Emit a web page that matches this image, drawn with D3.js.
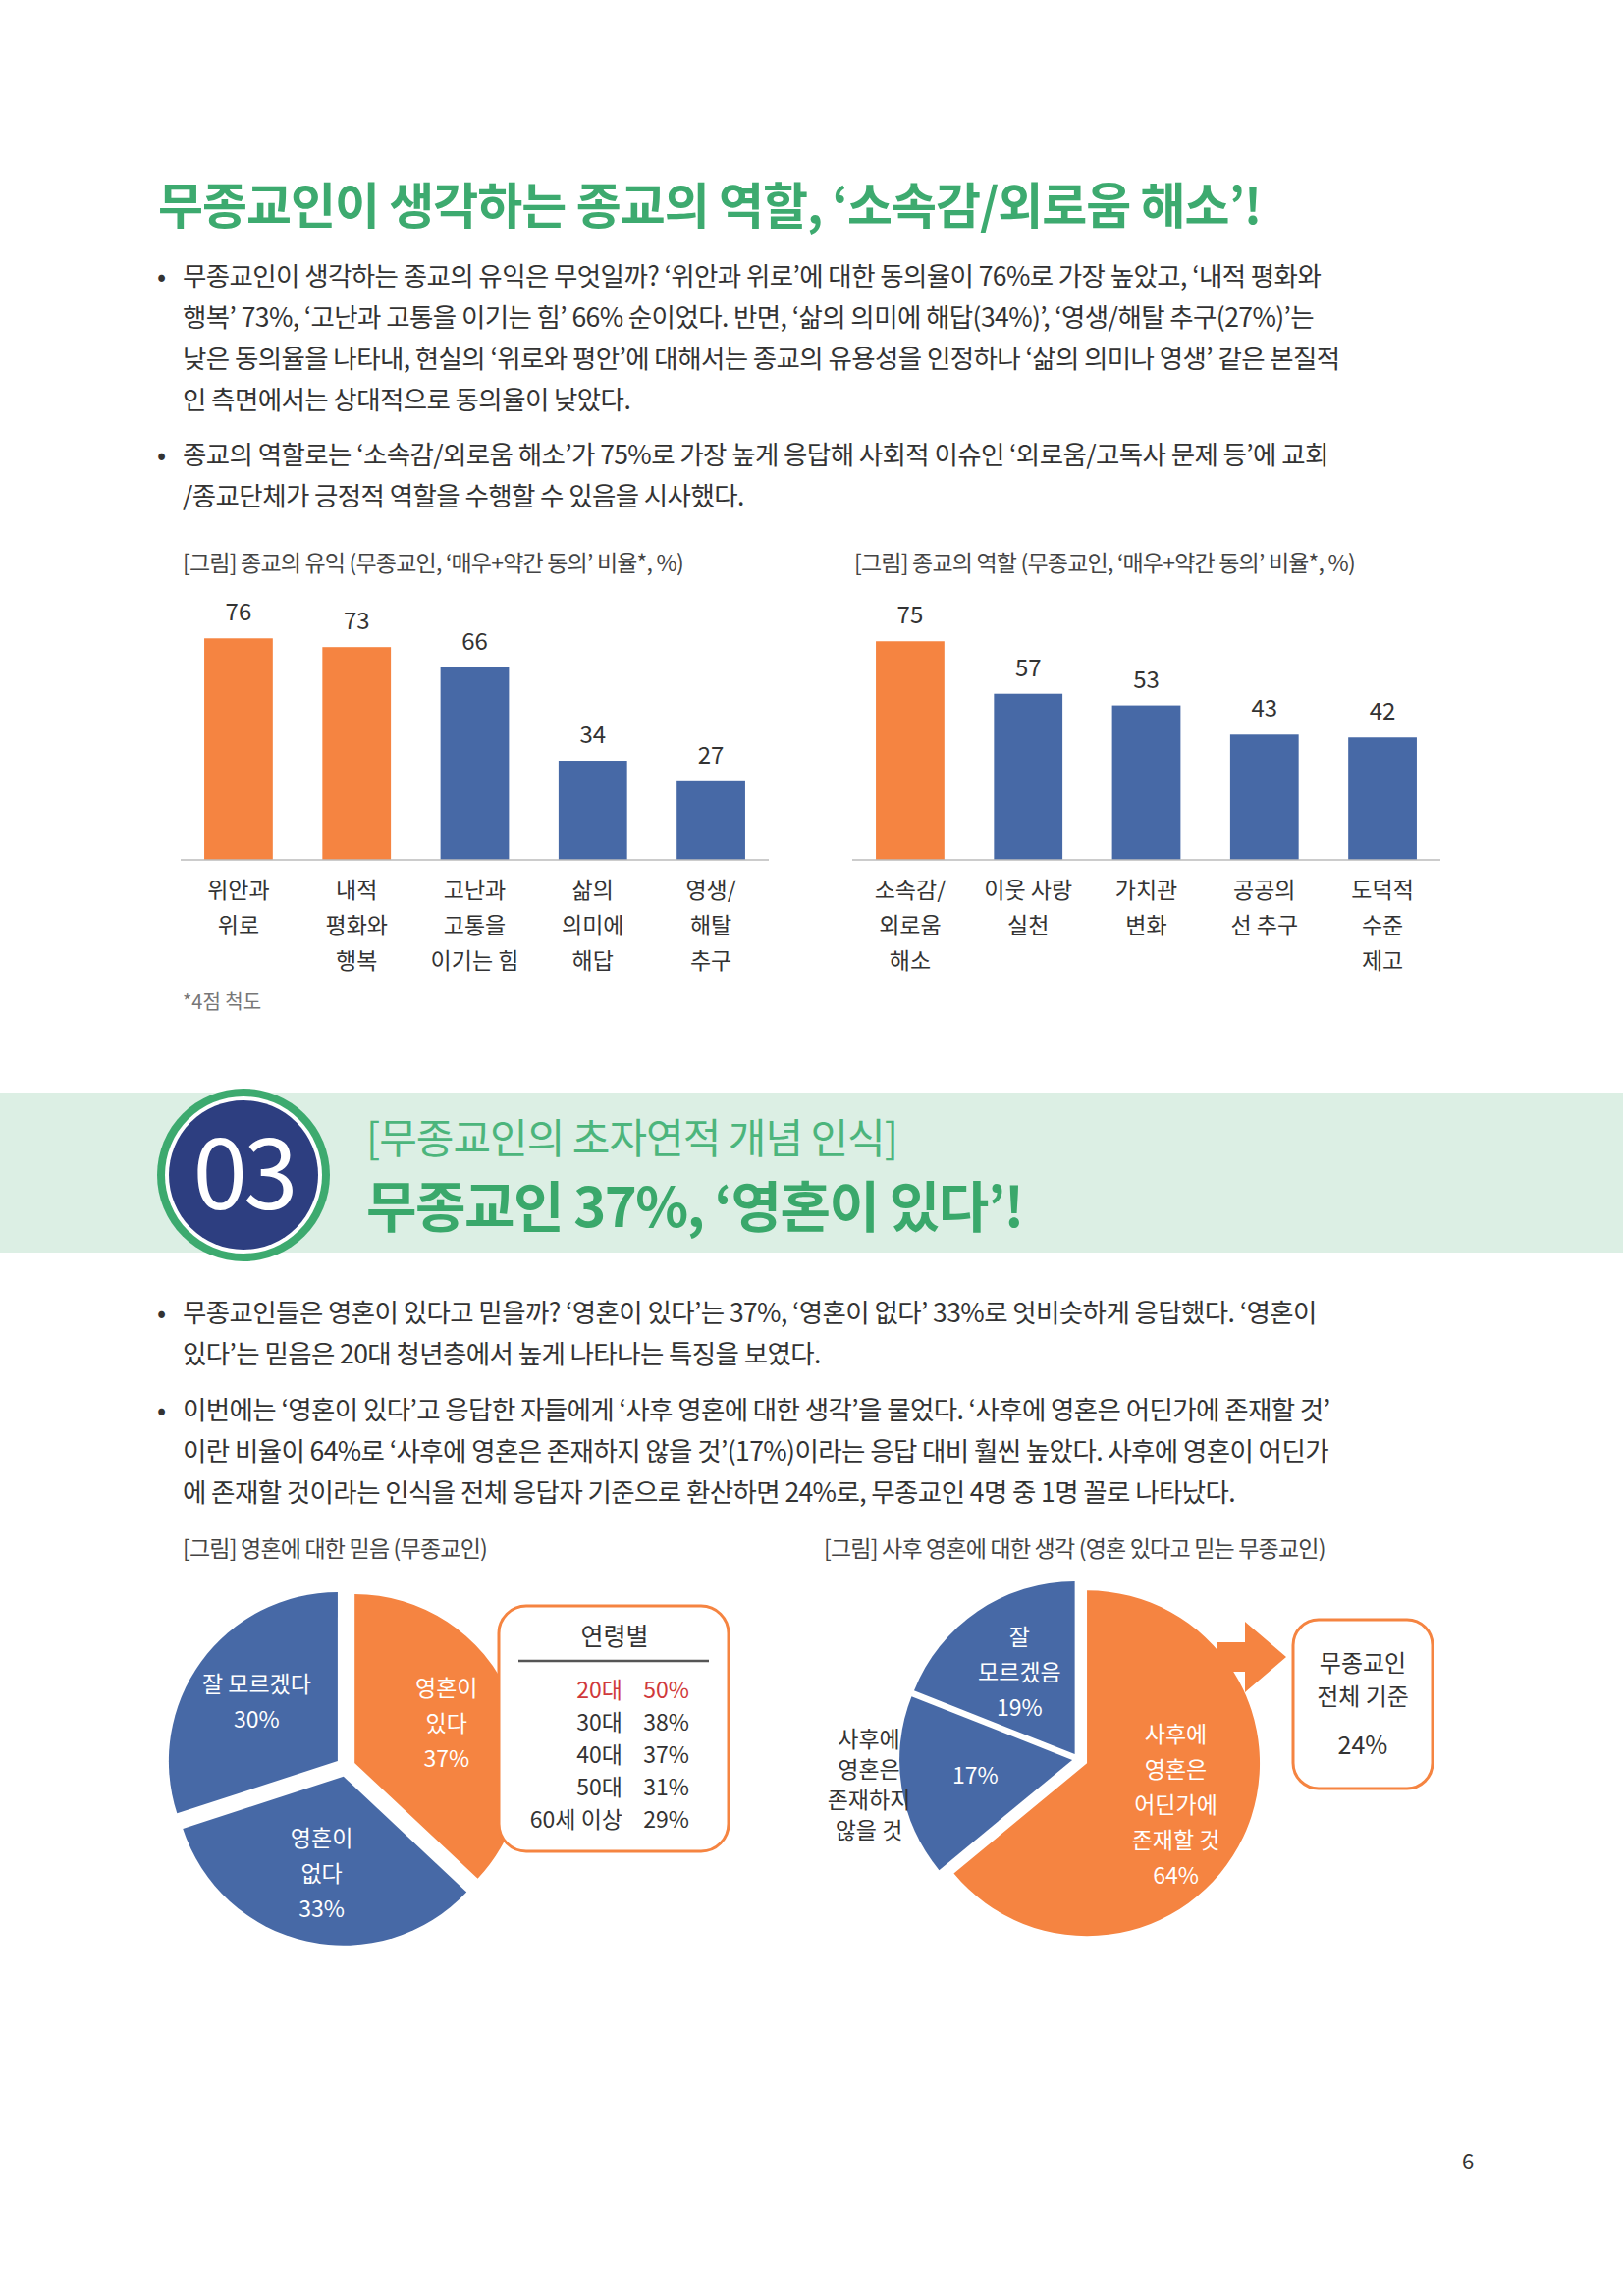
<!DOCTYPE html>
<meta charset="utf-8">
<script src="https://d3js.org/d3.v7.min.js"></script>
<style>
  body { margin: 0; background: #fff; }
  svg text { font-family: "Noto Sans CJK KR", "Noto Sans", sans-serif; }
</style>
<div id="page"></div>
<script>
  // bar chart data
  var benefitCats = [["위안과", "위로"], ["내적", "평화와", "행복"], ["고난과", "고통을", "이기는 힘"], ["삶의", "의미에", "해답"], ["영생/", "해탈", "추구"]];
  var benefitVals = [76, 73, 66, 34, 27];
  var benefitHi = [true, true, false, false, false];

  var roleCats = [["소속감/", "외로움", "해소"], ["이웃 사랑", "실천"], ["가치관", "변화"], ["공공의", "선 추구"], ["도덕적", "수준", "제고"]];
  var roleVals = [75, 57, 53, 43, 42];
  var roleHi = [true, false, false, false, false];

  // pie data
  var soulCats = ["있다", "없다", "모름"];
  var soulVals = [37, 33, 30];
  var ageLabels = ["20대", "30대", "40대", "50대", "60세 이상"];
  var ageVals = [50, 38, 37, 31, 29];
  var afterCats = ["존재", "비존재", "모름"];
  var afterVals = [64, 17, 19];

  var ORANGE = "#f58441", BLUE = "#4769a6", GREEN = "#3daa6f", TXT = "#333";

  var W = 1653, H = 2339;
  var svg = d3.select("#page").append("svg").attr("width", W).attr("height", H);

  function lines(x, y, arr, dy, opts) {
    var t = svg.append("text").attr("x", x).attr("y", y)
      .attr("font-size", opts.size).attr("fill", opts.fill || TXT)
      .attr("text-anchor", opts.anchor || "start")
      .attr("font-weight", opts.weight || "normal");
    arr.forEach(function(s, i) {
      t.append("tspan").attr("x", x).attr("dy", i ? dy : 0).text(s);
    });
    return t;
  }

  // title
  svg.append("text").attr("x", 161).attr("y", 228).attr("font-size", 50).attr("font-weight", "bold")
    .attr("fill", GREEN).attr("letter-spacing", -1).text("무종교인이 생각하는 종교의 역할, ‘소속감/외로움 해소’!");

  function bullet(y, arr) {
    svg.append("text").attr("x", 160).attr("y", y).attr("font-size", 27).attr("fill", TXT).text("•");
    lines(186, y, arr, 42, {size: 26.5}).attr("letter-spacing", -0.6);
  }
  bullet(291, ["무종교인이 생각하는 종교의 유익은 무엇일까? ‘위안과 위로’에 대한 동의율이 76%로 가장 높았고, ‘내적 평화와",
    "행복’ 73%, ‘고난과 고통을 이기는 힘’ 66% 순이었다. 반면, ‘삶의 의미에 해답(34%)’, ‘영생/해탈 추구(27%)’는",
    "낮은 동의율을 나타내, 현실의 ‘위로와 평안’에 대해서는 종교의 유용성을 인정하나 ‘삶의 의미나 영생’ 같은 본질적",
    "인 측면에서는 상대적으로 동의율이 낮았다."]);
  bullet(473, ["종교의 역할로는 ‘소속감/외로움 해소’가 75%로 가장 높게 응답해 사회적 이슈인 ‘외로움/고독사 문제 등’에 교회",
    "/종교단체가 긍정적 역할을 수행할 수 있음을 시사했다."]);

  // bar charts
  function barChart(x0, x1, caption, cats, vals, hi) {
    svg.append("text").attr("x", x0 + 2).attr("y", 582).attr("font-size", 23).attr("fill", "#444")
      .attr("letter-spacing", -0.8).text(caption);
    var base = 876;
    var x = d3.scaleBand().domain(d3.range(vals.length)).range([x0, x1]).paddingInner(0.42).paddingOuter(0.2);
    var y = d3.scaleLinear().domain([0, 100]).range([base, base - 297]);
    var g = svg.append("g");
    g.selectAll("rect").data(vals).join("rect")
      .attr("x", function(d, i) { return x(i); }).attr("y", function(d) { return y(d); })
      .attr("width", x.bandwidth()).attr("height", function(d) { return base - y(d); })
      .attr("fill", function(d, i) { return hi[i] ? ORANGE : BLUE; });
    g.selectAll("text.v").data(vals).join("text").attr("class", "v")
      .attr("x", function(d, i) { return x(i) + x.bandwidth() / 2; })
      .attr("y", function(d) { return y(d) - 18; })
      .attr("text-anchor", "middle").attr("font-size", 24).attr("fill", TXT).text(function(d) { return d; });
    g.append("line").attr("x1", x0).attr("x2", x1).attr("y1", base).attr("y2", base)
      .attr("stroke", "#bbb").attr("stroke-width", 1.5);
    cats.forEach(function(c, i) {
      lines(x(i) + x.bandwidth() / 2, 915, c, 36, {size: 23, anchor: "middle"});
    });
  }
  barChart(184, 783, "[그림] 종교의 유익 (무종교인, ‘매우+약간 동의’ 비율*, %)", benefitCats, benefitVals, benefitHi);
  barChart(868, 1467, "[그림] 종교의 역할 (무종교인, ‘매우+약간 동의’ 비율*, %)", roleCats, roleVals, roleHi);
  svg.append("text").attr("x", 186).attr("y", 1028).attr("font-size", 20).attr("fill", "#777").text("*4점 척도");

  // section band
  svg.append("rect").attr("x", 0).attr("y", 1113).attr("width", W).attr("height", 163).attr("fill", "#dcefe4");
  svg.append("circle").attr("cx", 248).attr("cy", 1197).attr("r", 88).attr("fill", GREEN);
  svg.append("circle").attr("cx", 248).attr("cy", 1197).attr("r", 80).attr("fill", "#fff");
  svg.append("circle").attr("cx", 248).attr("cy", 1197).attr("r", 76).attr("fill", "#2d3e80");
  svg.append("text").attr("x", 248).attr("y", 1232).attr("text-anchor", "middle").attr("font-size", 100)
    .attr("fill", "#fff").attr("letter-spacing", -4).text("03");
  svg.append("text").attr("x", 373).attr("y", 1175).attr("font-size", 42).attr("fill", "#4cb57c")
    .attr("letter-spacing", -1).text("[무종교인의 초자연적 개념 인식]");
  svg.append("text").attr("x", 373).attr("y", 1250).attr("font-size", 56).attr("font-weight", "bold")
    .attr("fill", "#3aa86b").attr("letter-spacing", -1.5).text("무종교인 37%, ‘영혼이 있다’!");

  bullet(1347, ["무종교인들은 영혼이 있다고 믿을까? ‘영혼이 있다’는 37%, ‘영혼이 없다’ 33%로 엇비슷하게 응답했다. ‘영혼이",
    "있다’는 믿음은 20대 청년층에서 높게 나타나는 특징을 보였다."]);
  bullet(1446, ["이번에는 ‘영혼이 있다’고 응답한 자들에게 ‘사후 영혼에 대한 생각’을 물었다. ‘사후에 영혼은 어딘가에 존재할 것’",
    "이란 비율이 64%로 ‘사후에 영혼은 존재하지 않을 것’(17%)이라는 응답 대비 훨씬 높았다. 사후에 영혼이 어딘가",
    "에 존재할 것이라는 인식을 전체 응답자 기준으로 환산하면 24%로, 무종교인 4명 중 1명 꼴로 나타났다."]);

  svg.append("text").attr("x", 186).attr("y", 1586).attr("font-size", 23).attr("fill", "#444")
    .attr("letter-spacing", -0.8).text("[그림] 영혼에 대한 믿음 (무종교인)");
  svg.append("text").attr("x", 839).attr("y", 1586).attr("font-size", 23).attr("fill", "#444")
    .attr("letter-spacing", -0.8).text("[그림] 사후 영혼에 대한 생각 (영혼 있다고 믿는 무종교인)");

  function pieChart(cx, cy, r, vals, colors, offsets, labels, labelR) {
    var pie = d3.pie().sort(null)(vals);
    var arc = d3.arc().innerRadius(0).outerRadius(r);
    var lab = d3.arc().innerRadius(labelR).outerRadius(labelR);
    var g = svg.append("g").attr("transform", "translate(" + cx + "," + cy + ")");
    pie.forEach(function(p, i) {
      var mid = (p.startAngle + p.endAngle) / 2;
      var ox = Math.sin(mid) * offsets[i], oy = -Math.cos(mid) * offsets[i];
      var s = g.append("g").attr("transform", "translate(" + ox + "," + oy + ")");
      s.append("path").attr("d", arc(p)).attr("fill", colors[i]);
      if (labels[i]) {
        var c = lab.centroid(p);
        var t = s.append("text").attr("text-anchor", "middle").attr("font-size", 23).attr("fill", "#fff");
        var n = labels[i].length;
        labels[i].forEach(function(str, j) {
          t.append("tspan").attr("x", c[0]).attr("y", c[1] + (j - (n - 1) / 2) * 36 + 8).text(str);
        });
      }
    });
  }

  pieChart(352, 1800, 172, soulVals, [ORANGE, BLUE, BLUE], [10, 10, 10],
    [["영혼이", "있다", soulVals[0] + "%"], ["영혼이", "없다", soulVals[1] + "%"], ["잘 모르겠다", soulVals[2] + "%"]], 102);

  // age box
  svg.append("rect").attr("x", 508).attr("y", 1636).attr("width", 234).attr("height", 250).attr("rx", 28)
    .attr("fill", "#fff").attr("stroke", ORANGE).attr("stroke-width", 3);
  svg.append("text").attr("x", 626).attr("y", 1676).attr("text-anchor", "middle").attr("font-size", 25).attr("fill", TXT).text("연령별");
  svg.append("line").attr("x1", 528).attr("x2", 722).attr("y1", 1692).attr("y2", 1692).attr("stroke", "#555").attr("stroke-width", 2.5);
  var ay = d3.scalePoint().domain(ageLabels).range([1730, 1862]);
  ageLabels.forEach(function(a, i) {
    var col = i === 0 ? "#d0393b" : TXT;
    svg.append("text").attr("x", 634).attr("y", ay(a)).attr("text-anchor", "end").attr("font-size", 23).attr("fill", col).text(a);
    svg.append("text").attr("x", 702).attr("y", ay(a)).attr("text-anchor", "end").attr("font-size", 23).attr("fill", col).text(ageVals[i] + "%");
  });

  pieChart(1098, 1792, 176, afterVals, [ORANGE, BLUE, BLUE], [10, 6, 6],
    [["사후에", "영혼은", "어딘가에", "존재할 것", afterVals[0] + "%"], [afterVals[1] + "%"], ["잘", "모르겠음", afterVals[2] + "%"]], 100);
  lines(885, 1780, ["사후에", "영혼은", "존재하지", "않을 것"], 31, {size: 23, anchor: "middle"});

  // arrow + total box
  svg.append("path").attr("d", "M1240,1673 L1268,1673 L1268,1652 L1310,1688 L1268,1724 L1268,1703 L1240,1703 Z").attr("fill", ORANGE);
  svg.append("rect").attr("x", 1317).attr("y", 1650).attr("width", 142).attr("height", 172).attr("rx", 26)
    .attr("fill", "#fff").attr("stroke", ORANGE).attr("stroke-width", 3);
  lines(1388, 1703, ["무종교인", "전체 기준"], 34, {size: 24, anchor: "middle"});
  svg.append("text").attr("x", 1388).attr("y", 1787).attr("text-anchor", "middle").attr("font-size", 25).attr("fill", TXT).text("24%");

  svg.append("text").attr("x", 1495).attr("y", 2210).attr("text-anchor", "middle").attr("font-size", 22).attr("fill", TXT).text("6");
</script>
